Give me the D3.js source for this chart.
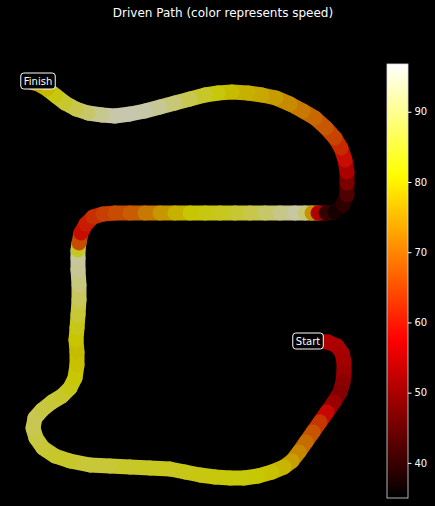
<!DOCTYPE html>
<html><head><meta charset="utf-8">
<script src="https://cdn.jsdelivr.net/npm/d3@7"></script>
<style>html,body{margin:0;padding:0;background:#000;}svg{display:block;}</style>
</head><body>
<script>
// Path positions (east / north, arbitrary units) and speed at each point
const xs = [280,295,308,317,322,324,324,323,320,314,307,300,293,286,279,272,264,252,238,224,210,195,180,165,150,130,110,90,70,50,35,23,16,13,15,22,32,42,50,55,57,57,56,57,58,59,59,58,58,58,59,61,66,73,83,95,110,125,140,155,170,185,200,215,230,245,260,275,285,292,298,306,315,323,327,327,327,325,321,315,306,295,283,270,256,242,228,212,198,185,170,155,140,125,110,95,82,68,56,45,36,27,18,10];
const ys = [149,149,148,144,137,128,118,108,98,88,78,68,58,48,38,29,23,18,14,12,12,13,15,18,21,22,23,24,25,29,34,42,52,62,72,80,88,94,102,112,125,138,150,162,175,190,205,220,232,240,247,257,266,273,276,277,277,277,277,277,277,277,277,277,277,277,277,277,277,277,277,277,278,285,295,307,318,330,342,352,362,372,379,386,392,395,397,398,397,395,391,387,383,379,376,374,375,377,381,387,394,401,406,408];
const speeds = [56,55,55,55,54,54,53,52,50,50,55,62,66,69,72,75,78,80,81,82,82,82,82,83,83,84,84,85,86,85,84,85,86,87,88,87,86,85,84,82,81,80,80,82,84,87,90,92,94,93,75,58,60,62,64,66,67,70,74,77,80,82,83,84,86,88,91,93,95,85,65,45,37,38,42,46,52,57,61,64,67,69,71,73,75,77,78,79,81,83,86,89,92,94,95,95,94,91,88,86,84,81,78,74,70];
const colorTicks = [40,50,60,70,80,90];
const speedMin = 35.0, speedMax = 96.8;
const title = "Driven Path (color represents speed)";

const W = 435, H = 506;
const svg = d3.select("body").append("svg").attr("width", W).attr("height", H)
  .style("background", "#000");

const x = d3.scaleLinear().domain([0, 330]).range([20, 350]);
const y = d3.scaleLinear().domain([0, 400]).range([490, 90]);

function hot(t) {
  t = Math.max(0, Math.min(1, t));
  const r = Math.min(1, Math.max(0, t / 0.365079));
  const g = Math.min(1, Math.max(0, (t - 0.365079) / (0.746032 - 0.365079)));
  const b = Math.min(1, Math.max(0, (t - 0.746032) / (1 - 0.746032)));
  return `rgb(${Math.round(r*255)},${Math.round(g*255)},${Math.round(b*255)})`;
}
const norm = d3.scaleLinear().domain([speedMin, speedMax]).range([0, 1]);
const color = v => hot(norm(v));

// Title
svg.append("text").attr("x", 223).attr("y", 17).attr("text-anchor", "middle")
  .attr("fill", "#fff").attr("font-family", "DejaVu Sans").attr("font-size", 12)
  .text(title);

// Path
const pts = xs.map((d, i) => ({x: d, y: ys[i], s: speeds[i]}));
const g = svg.append("g").attr("opacity", 0.78);
for (let i = 0; i < pts.length - 1; i++) {
  const a = pts[i], b = pts[i+1];
  g.append("line")
    .attr("x1", x(a.x)).attr("y1", y(a.y))
    .attr("x2", x(b.x)).attr("y2", y(b.y))
    .attr("stroke", color((a.s + b.s) / 2))
    .attr("stroke-width", 15).attr("stroke-linecap", "round");
}

// Start / Finish labels
function label(px, py, txt) {
  const t = svg.append("text").attr("x", px).attr("y", py).attr("text-anchor", "middle")
    .attr("dominant-baseline", "central").attr("fill", "#fff")
    .attr("font-family", "DejaVu Sans").attr("font-size", 10).text(txt);
  const bb = t.node().getBBox();
  svg.insert("rect", function(){ return t.node(); })
    .attr("x", bb.x - 3).attr("y", py - 8).attr("width", bb.width + 6).attr("height", 16)
    .attr("rx", 3).attr("fill", "#000").attr("stroke", "#fff").attr("stroke-width", 1);
}
label(x(xs[0]) + 8, y(ys[0]), "Start");
label(x(xs[xs.length - 1]) + 8, y(ys[ys.length - 1]) - 1, "Finish");

// Colorbar
const cbX = 387, cbW = 21, cbTop = 64, cbBot = 498;
const cy = d3.scaleLinear().domain([speedMin, speedMax]).range([cbBot, cbTop]);
const defs = svg.append("defs");
const grad = defs.append("linearGradient").attr("id", "cb")
  .attr("x1", 0).attr("y1", 1).attr("x2", 0).attr("y2", 0);
d3.range(0, 1.0001, 0.02).forEach(t => {
  grad.append("stop").attr("offset", t).attr("stop-color", hot(t));
});
svg.append("rect").attr("x", cbX).attr("y", cbTop).attr("width", cbW).attr("height", cbBot - cbTop)
  .attr("fill", "url(#cb)").attr("stroke", "#ddd").attr("stroke-width", 0.8);
const axis = d3.axisRight(cy).tickValues(colorTicks).tickSize(3.5).tickPadding(3);
const ag = svg.append("g").attr("transform", `translate(${cbX + cbW},0)`).call(axis);
ag.select(".domain").remove();
ag.selectAll("line").attr("stroke", "#fff");
ag.selectAll("text").attr("fill", "#fff").attr("font-family", "DejaVu Sans").attr("font-size", 10);
</script>
</body></html>
